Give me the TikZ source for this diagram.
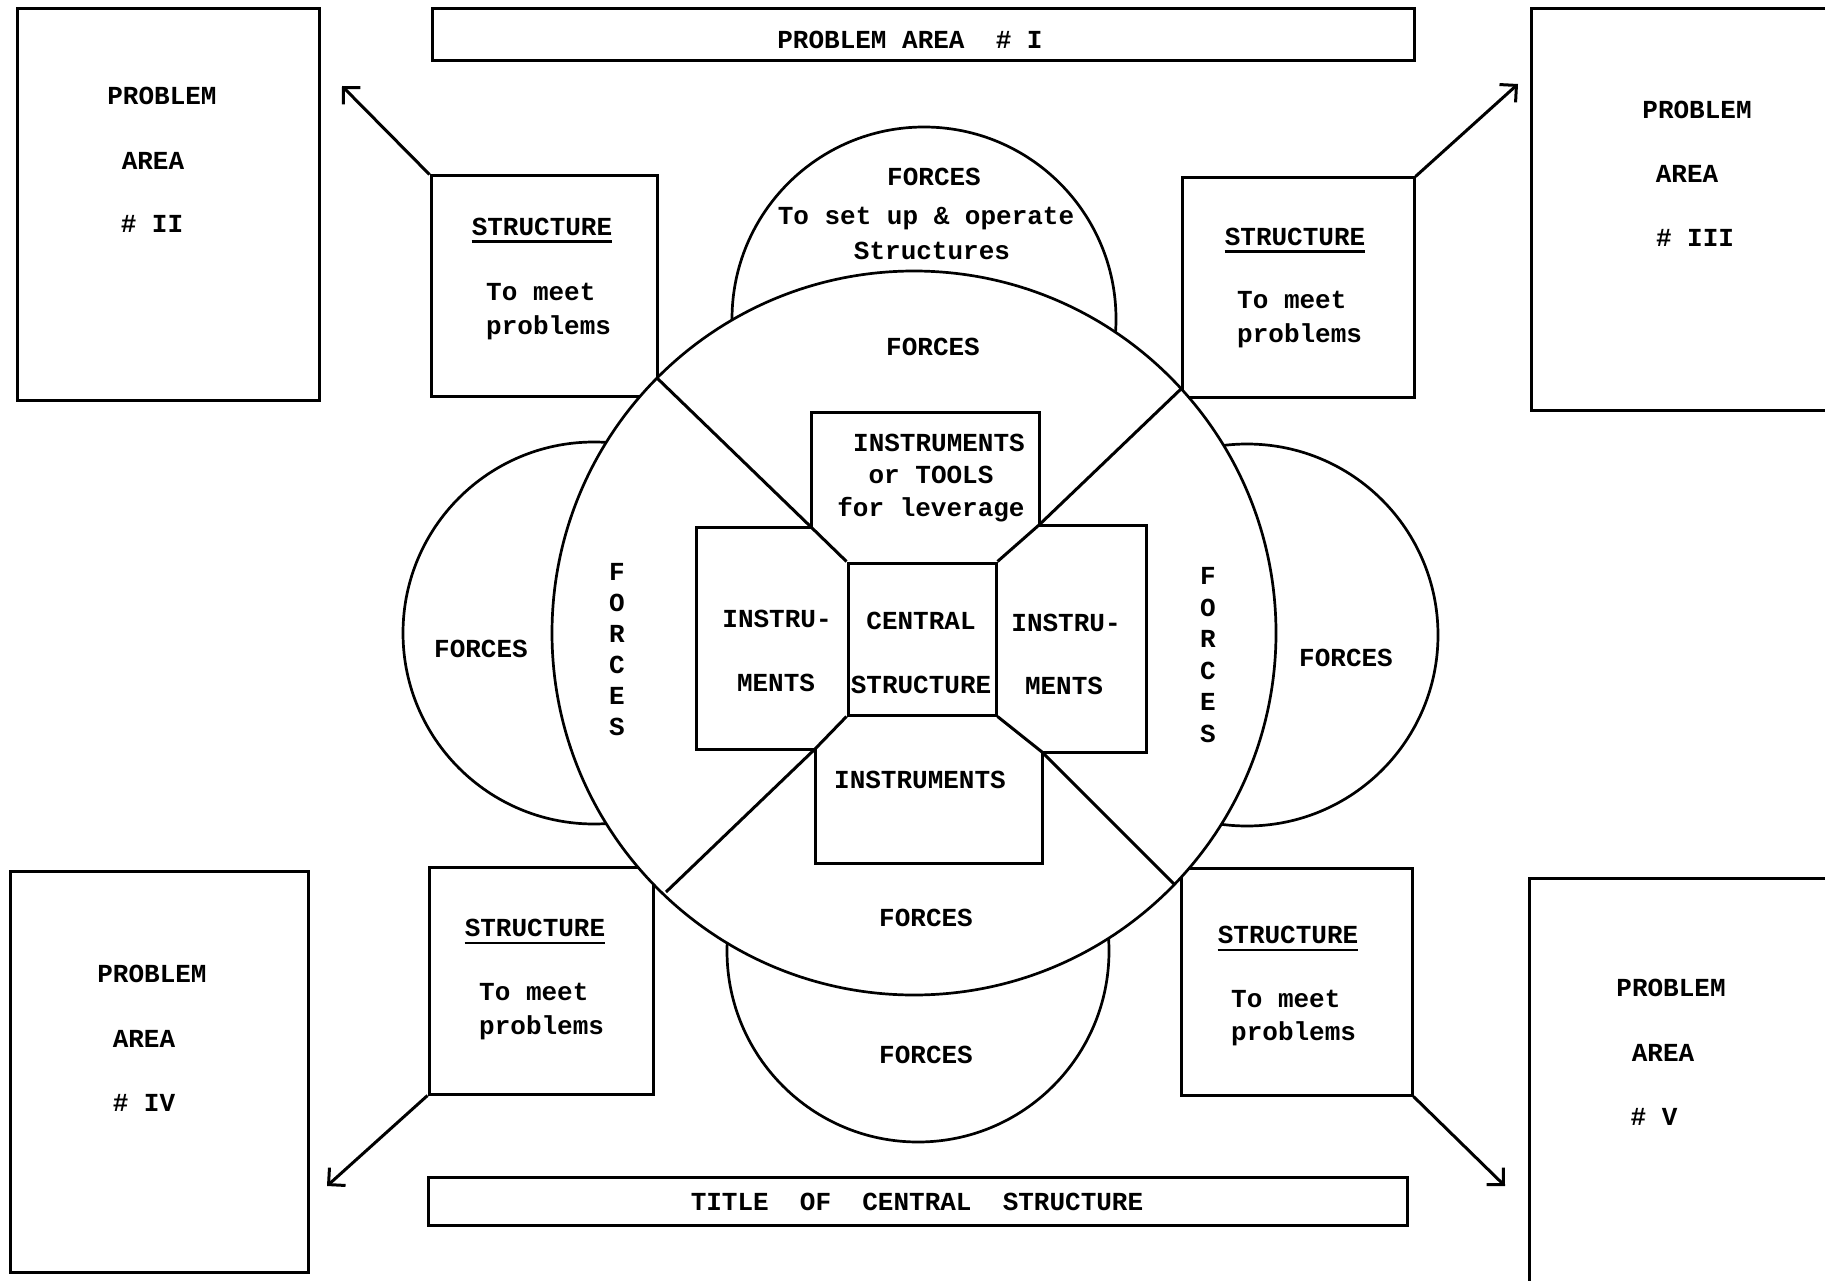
\documentclass[tikz,border=0pt]{standalone}
\usepackage{fontspec}
\newfontfamily\tw{Liberation Mono}
\usetikzlibrary{arrows.meta}
\begin{document}
\begin{tikzpicture}[x=1pt,y=-1pt,
  ln/.style={line width=3pt},
  box/.style={draw, ln, inner sep=0pt, rectangle},
  circ/.style={draw, line width=2.7pt, circle, fill=white, inner sep=0pt},
  lbl/.style={inner sep=0pt, text height=17pt, text depth=0pt, font={\tw\bfseries\fontsize{26}{30}\selectfont}},
  arr/.style={ln, -{Straight Barb[length=12pt,width=24pt,line width=3pt]}},
  uline/.style={line width=2.4pt}
]
\useasboundingbox (0,0) rectangle (1825,1281);
\clip (0,0) rectangle (1825,1281);
\fill[white] (0,0) rectangle (1825,1281);

% outer boxes
\node[box, minimum width=982, minimum height=52] (p1) at (923,35) {};
\node[box, minimum width=302, minimum height=391] (p2) at (168,204.5) {};
\node[box, minimum width=314, minimum height=401] (p3) at (1688,209.5) {};
\node[box, minimum width=298, minimum height=401] (p4) at (159,1071.5) {};
\node[box, minimum width=316, minimum height=422] (p5) at (1687,1089) {};
\node[box, minimum width=979, minimum height=48] (tb) at (917.5,1201) {};

% structure boxes
\node[box, minimum width=226, minimum height=220] (sb1) at (544,286) {};
\node[box, minimum width=232, minimum height=219] (sb2) at (1298,287.5) {};
\node[box, minimum width=224, minimum height=227] (sb3) at (541,980.5) {};
\node[box, minimum width=231, minimum height=227] (sb4) at (1296.5,981.5) {};

% arrows
\coordinate (t2) at (342,86);
\coordinate (t3) at (1518,84);
\coordinate (t4) at (327,1186);
\coordinate (t5) at (1505,1186);
\draw[arr] (sb1.north west) -- (t2);
\draw[arr] (sb2.north east) -- (t3);
\draw[arr] (sb3.south west) -- (t4);
\draw[arr] (sb4.south east) -- (t5);

% circles
\node[circ, minimum size=384] (ct) at (924,319) {};
\node[circ, minimum size=382] (cb) at (918,951) {};
\node[circ, minimum size=382] (cl) at (594,633) {};
\node[circ, minimum size=382] (cr) at (1247,635) {};
\node[circ, minimum size=724] (cc) at (914,633) {};

% inner structure
\node[box, minimum width=148, minimum height=152] (cs) at (922,639) {};
\coordinate (jul) at (811,527);
\coordinate (jur) at (1039,525);
\coordinate (jll) at (815,749);
\coordinate (jlr) at (1042,752);
\coordinate (eul) at (657,378);
\coordinate (eur) at (1182,388);
\coordinate (ell) at (666,892);
\coordinate (elr) at (1174,884);
\draw[ln] (cs.north west) -- (jul) -- (eul);
\draw[ln] (cs.north east) -- (jur) -- (eur);
\draw[ln] (cs.south west) -- (jll) -- (ell);
\draw[ln] (cs.south east) -- (jlr) -- (elr);
\draw[ln] (jul) -- (811,412) -- (1039,412) -- (jur);
\draw[ln] (jul) -- (696,527) -- (696,749) -- (jll);
\draw[ln] (jur) -- (1146,525) -- (1146,752) -- (jlr);
\draw[ln] (jll) -- (815,863) -- (1042,863) -- (jlr);

% texts: problem areas
\node[lbl] (p1t) at (910,40) {PROBLEM AREA~~\#~I};
\node[lbl] (p2a) at (162,96) {PROBLEM};
\node[lbl] (p2b) at (153,161) {AREA};
\node[lbl] (p2c) at (152,224) {\#~II};
\node[lbl] (p3a) at (1697,110) {PROBLEM};
\node[lbl] (p3b) at (1687,174) {AREA};
\node[lbl] (p3c) at (1695,238) {\#~III};
\node[lbl] (p4a) at (152,974) {PROBLEM};
\node[lbl] (p4b) at (144,1039) {AREA};
\node[lbl] (p4c) at (144,1103) {\#~IV};
\node[lbl] (p5a) at (1671,988) {PROBLEM};
\node[lbl] (p5b) at (1663,1053) {AREA};
\node[lbl] (p5c) at (1654,1117) {\#~V};
\node[lbl] (tbt) at (917,1202) {TITLE~~OF~~CENTRAL~~STRUCTURE};

% structure box texts
\node[lbl] (s1h) at (542,227) {STRUCTURE};
\node[lbl, anchor=west] (s1a) at (486,292) {To meet};
\node[lbl, anchor=west] (s1b) at (486,326) {problems};
\node[lbl] (s2h) at (1295,237) {STRUCTURE};
\node[lbl, anchor=west] (s2a) at (1237,300) {To meet};
\node[lbl, anchor=west] (s2b) at (1237,334) {problems};
\node[lbl] (s3h) at (535,928) {STRUCTURE};
\node[lbl, anchor=west] (s3a) at (479,992) {To meet};
\node[lbl, anchor=west] (s3b) at (479,1026) {problems};
\node[lbl] (s4h) at (1288,935) {STRUCTURE};
\node[lbl, anchor=west] (s4a) at (1231,999) {To meet};
\node[lbl, anchor=west] (s4b) at (1231,1032) {problems};
\foreach \n in {s1h,s2h,s3h,s4h}
  \draw[uline] ([yshift=-6pt]\n.south west) -- ([yshift=-6pt]\n.south east);

% circle texts
\node[lbl] (ct1) at (934,177) {FORCES};
\node[lbl] (ct2) at (926,216) {To set up \& operate};
\node[lbl] (ct3) at (932,251) {Structures};
\node[lbl] (cc1) at (933,347) {FORCES};
\node[lbl] (cc2) at (926,918) {FORCES};
\node[lbl] (cb1) at (926,1055) {FORCES};
\node[lbl] (cl1) at (481,649) {FORCES};
\node[lbl] (cr1) at (1346,658) {FORCES};
\foreach \l [count=\i] in {F,O,R,C,E,S} {
  \node[lbl] (fl\i) at (617,{572+31*(\i-1)}) {\l};
  \node[lbl] (fr\i) at (1208,{576+31.6*(\i-1)}) {\l};
}

% central texts
\node[lbl] (it1) at (939,443) {INSTRUMENTS};
\node[lbl] (it2) at (931,475) {or TOOLS};
\node[lbl] (it3) at (931,508) {for leverage};
\node[lbl] (il1) at (777,619) {INSTRU-};
\node[lbl] (il2) at (776,683) {MENTS};
\node[lbl] (cs1) at (921,621) {CENTRAL};
\node[lbl] (cs2) at (921,685) {STRUCTURE};
\node[lbl] (ir1) at (1066,623) {INSTRU-};
\node[lbl] (ir2) at (1064,686) {MENTS};
\node[lbl] (ib1) at (920,780) {INSTRUMENTS};
\end{tikzpicture}
\end{document}
